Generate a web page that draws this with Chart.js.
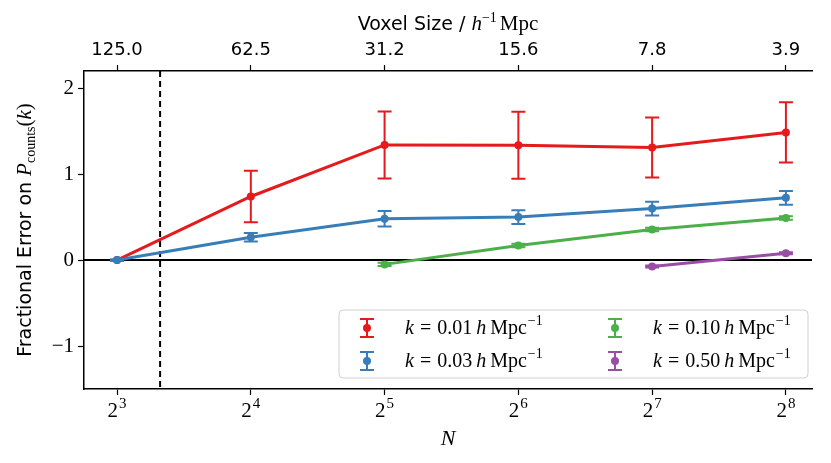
<!DOCTYPE html>
<html lang="en">
<head>
    <meta charset="UTF-8">
    <title>Fractional Error</title>
    <script src="https://cdn.jsdelivr.net/npm/chart.js"></script>
    <style>
        html, body { margin: 0; padding: 0; background: #fff; }
        #wrap { width: 831px; height: 463px; }
    </style>
</head>
<body>
    <div id="wrap"><canvas id="errChart" width="831" height="463"></canvas></div>

    <script>
        // data
        const nExp = [3, 4, 5, 6, 7, 8];                       // N = 2^nExp
        const nLabels = ['3', '4', '5', '6', '7', '8'];       // exponents shown on bottom axis
        const voxelLabels = ['125.0', '62.5', '31.2', '15.6', '7.8', '3.9'];
        const yTicks = [-1, 0, 1, 2];
        const kValues = ['0.01', '0.03', '0.10', '0.50'];
        const colors = ['#e41a1c', '#377eb8', '#4daf4a', '#984ea3'];

        const red = [0.0, 0.74, 1.34, 1.335, 1.31, 1.485];
        const redErr = [0.0, 0.30, 0.39, 0.39, 0.35, 0.35];
        const blue = [0.0, 0.265, 0.48, 0.50, 0.60, 0.725];
        const blueErr = [0.01, 0.05, 0.09, 0.08, 0.08, 0.08];
        const green = [null, null, -0.05, 0.17, 0.355, 0.49];
        const greenErr = [null, null, 0.02, 0.02, 0.02, 0.02];
        const purple = [null, null, null, null, -0.075, 0.08];
        const purpleErr = [null, null, null, null, 0.012, 0.012];

        const cutoff = Math.log2(10); // dashed line
        const xMin = 2.753, xMax = 8.195;

        const serif = '"Liberation Serif", "DejaVu Serif", serif';
        const sans = '"DejaVu Sans", "Liberation Sans", sans-serif';

        function series(vals, errs, i) {
            const pts = [];
            vals.forEach((v, j) => {
                if (v !== null) pts.push({ x: nExp[j], y: v, e: errs[j] });
            });
            return {
                label: 'k = ' + kValues[i],
                data: pts,
                borderColor: colors[i],
                backgroundColor: colors[i],
                borderWidth: 3,
                pointRadius: 4,
                pointHoverRadius: 4,
                pointBorderWidth: 0,
                tension: 0,
                order: 4 - i
            };
        }

        const errorBars = {
            id: 'errorBars',
            beforeDatasetDraw(chart, args) {
                const ds = chart.data.datasets[args.index];
                const xs = chart.scales.x, ys = chart.scales.y;
                const ctx = chart.ctx;
                ctx.save();
                ctx.strokeStyle = ds.borderColor;
                ctx.lineWidth = 2;
                ds.data.forEach(p => {
                    if (!p.e) return;
                    const px = xs.getPixelForValue(p.x);
                    const top = ys.getPixelForValue(p.y + p.e);
                    const bot = ys.getPixelForValue(p.y - p.e);
                    ctx.beginPath();
                    ctx.moveTo(px, top); ctx.lineTo(px, bot);
                    ctx.moveTo(px - 7, top); ctx.lineTo(px + 7, top);
                    ctx.moveTo(px - 7, bot); ctx.lineTo(px + 7, bot);
                    ctx.stroke();
                });
                ctx.restore();
            }
        };

        const refLines = {
            id: 'refLines',
            beforeDatasetsDraw(chart) {
                const { ctx, chartArea: a, scales } = chart;
                const y0 = scales.y.getPixelForValue(0);
                const xc = scales.x.getPixelForValue(cutoff);
                ctx.save();
                ctx.strokeStyle = '#000';
                ctx.lineWidth = 2;
                ctx.beginPath();
                ctx.moveTo(a.left, y0); ctx.lineTo(a.right, y0);
                ctx.stroke();
                ctx.setLineDash([6, 4]);
                ctx.beginPath();
                ctx.moveTo(xc, a.top); ctx.lineTo(xc, a.bottom);
                ctx.stroke();
                ctx.restore();
            }
        };

        // draw a run of text pieces with different fonts
        function drawParts(ctx, parts, x, y) {
            parts.forEach(p => {
                ctx.font = p.font;
                ctx.fillText(p.t, x, y + (p.dy || 0));
                x += ctx.measureText(p.t).width + (p.gap || 0);
            });
            return x;
        }
        function partsWidth(ctx, parts) {
            let w = 0;
            parts.forEach(p => { ctx.font = p.font; w += ctx.measureText(p.t).width + (p.gap || 0); });
            return w;
        }

        const labelsAndLegend = {
            id: 'labelsAndLegend',
            afterDraw(chart) {
                const { ctx, chartArea: a, scales } = chart;
                const cx = (a.left + a.right) / 2;
                ctx.save();
                ctx.fillStyle = '#000';
                ctx.textBaseline = 'alphabetic';

                // bottom tick labels: 2^n
                nExp.forEach((v, i) => {
                    const px = scales.x.getPixelForValue(v);
                    const parts = [
                        { t: '2', font: '21px ' + serif, gap: 1 },
                        { t: nLabels[i], font: '15px ' + serif, dy: -9 }
                    ];
                    drawParts(ctx, parts, px - partsWidth(ctx, parts) / 2, 417);
                });

                // top title
                const top = [
                    { t: 'Voxel Size / ', font: '19px ' + sans },
                    { t: 'h', font: 'italic 21px ' + serif },
                    { t: '−1', font: '14px ' + serif, dy: -8, gap: 3 },
                    { t: 'Mpc', font: '21px ' + serif }
                ];
                drawParts(ctx, top, cx - partsWidth(ctx, top) / 2, 30);

                // bottom title
                ctx.font = 'italic 22px ' + serif;
                ctx.textAlign = 'center';
                ctx.fillText('N', cx, 445);
                ctx.textAlign = 'left';

                // y title
                const yt = [
                    { t: 'Fractional Error on ', font: '19px ' + sans },
                    { t: 'P', font: 'italic 21px ' + serif },
                    { t: 'counts', font: '14px ' + serif, dy: 4 },
                    { t: '(', font: '21px ' + serif },
                    { t: 'k', font: 'italic 21px ' + serif },
                    { t: ')', font: '21px ' + serif }
                ];
                ctx.save();
                ctx.translate(31, (a.top + a.bottom) / 2);
                ctx.rotate(-Math.PI / 2);
                drawParts(ctx, yt, -partsWidth(ctx, yt) / 2, 0);
                ctx.restore();

                // legend
                const bx = 339, by = 310, bw = 469, bh = 68;
                ctx.fillStyle = 'rgba(255,255,255,0.85)';
                ctx.strokeStyle = '#d0d0d0';
                ctx.lineWidth = 1;
                ctx.beginPath();
                ctx.roundRect(bx, by, bw, bh, 4);
                ctx.fill();
                ctx.stroke();

                const colX = [367, 615];
                const rowY = [328, 361];
                kValues.forEach((k, i) => {
                    const mx = colX[Math.floor(i / 2)];
                    const my = rowY[i % 2];
                    ctx.strokeStyle = colors[i];
                    ctx.fillStyle = colors[i];
                    ctx.lineWidth = 2;
                    ctx.beginPath();
                    ctx.moveTo(mx, my - 9); ctx.lineTo(mx, my + 9);
                    ctx.moveTo(mx - 7, my - 9); ctx.lineTo(mx + 7, my - 9);
                    ctx.moveTo(mx - 7, my + 9); ctx.lineTo(mx + 7, my + 9);
                    ctx.stroke();
                    ctx.beginPath();
                    ctx.arc(mx, my, 4, 0, Math.PI * 2);
                    ctx.fill();

                    ctx.fillStyle = '#000';
                    drawParts(ctx, [
                        { t: 'k', font: 'italic 20px ' + serif, gap: 6 },
                        { t: '=', font: '20px ' + serif, gap: 6 },
                        { t: k, font: '20px ' + serif, gap: 4 },
                        { t: 'h', font: 'italic 20px ' + serif, gap: 4 },
                        { t: 'Mpc', font: '20px ' + serif, gap: 1 },
                        { t: '−1', font: '14px ' + serif, dy: -9 }
                    ], mx + 38, my + 6);
                });
                ctx.restore();
            }
        };

        const chart = new Chart(document.getElementById('errChart').getContext('2d'), {
            type: 'line',
            data: {
                datasets: [
                    series(red, redErr, 0),
                    series(blue, blueErr, 1),
                    series(green, greenErr, 2),
                    series(purple, purpleErr, 3)
                ]
            },
            options: {
                responsive: false,
                animation: false,
                devicePixelRatio: 1,
                layout: { padding: { left: 0, right: 19, top: 0, bottom: 0 } },
                scales: {
                    x: {
                        type: 'linear',
                        position: 'bottom',
                        min: xMin,
                        max: xMax,
                        afterBuildTicks: s => { s.ticks = nExp.map(v => ({ value: v })); },
                        afterFit: s => { s.height = 74; },
                        grid: { drawOnChartArea: false, color: '#000', tickLength: 6, tickWidth: 1.2 },
                        border: { color: '#000', width: 1.5 },
                        ticks: { display: true, color: 'rgba(0,0,0,0)', callback: () => '' }
                    },
                    x2: {
                        type: 'linear',
                        position: 'top',
                        min: xMin,
                        max: xMax,
                        afterBuildTicks: s => { s.ticks = nExp.map(v => ({ value: v })); },
                        afterFit: s => { s.height = 71; },
                        grid: { drawOnChartArea: false, color: '#000', tickLength: 6, tickWidth: 1.2 },
                        border: { color: '#000', width: 1.5 },
                        ticks: {
                            color: '#000',
                            font: { family: sans, size: 18 },
                            padding: 4,
                            maxRotation: 0,
                            autoSkip: false,
                            callback: v => voxelLabels[nExp.indexOf(v)]
                        }
                    },
                    y: {
                        min: -1.5,
                        max: 2.2,
                        afterBuildTicks: s => { s.ticks = yTicks.map(v => ({ value: v })); },
                        afterFit: s => { s.width = 84; },
                        grid: { drawOnChartArea: false, color: '#000', tickLength: 6, tickWidth: 1.2 },
                        border: { color: '#000', width: 1.5 },
                        ticks: {
                            color: '#000',
                            font: { family: serif, size: 21 },
                            padding: 4,
                            callback: v => (v < 0 ? '−' + Math.abs(v) : String(v))
                        }
                    }
                },
                plugins: {
                    legend: { display: false },
                    tooltip: { enabled: false }
                }
            },
            plugins: [errorBars, refLines, labelsAndLegend]
        });
    </script>
</body>
</html>
